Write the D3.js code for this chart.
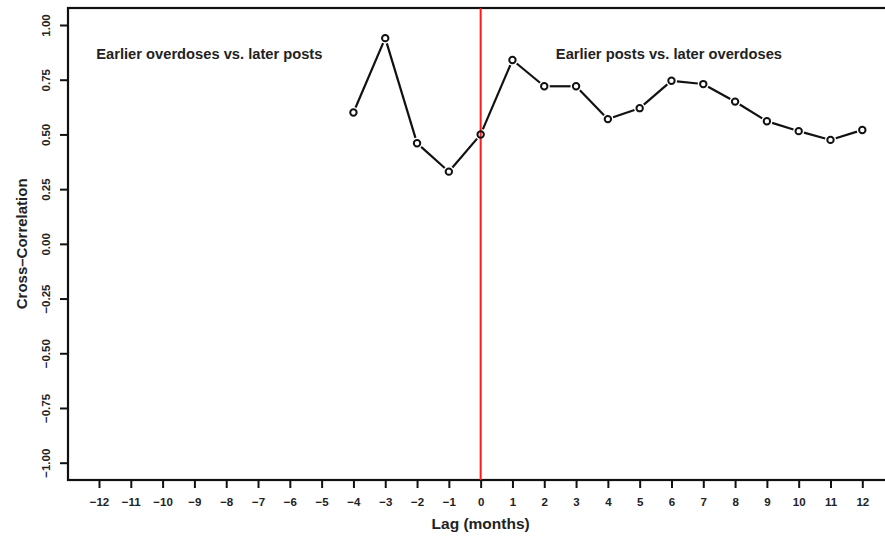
<!DOCTYPE html>
<html>
<head>
<meta charset="utf-8">
<script src="https://cdn.jsdelivr.net/npm/d3@7"></script>
<style>
  html, body { margin: 0; padding: 0; background: #fff; }
  svg { display: block; font-family: "Liberation Sans", Arial, sans-serif; }
</style>
</head>
<body>
<svg id="chart" width="885" height="540"></svg>
<script>
// Monthly lags and cross-correlation between posts and overdoses
const lags = [-4, -3, -2, -1, 0, 1, 2, 3, 4, 5, 6, 7, 8, 9, 10, 11, 12];
const crossCorr = [0.60, 0.94, 0.46, 0.33, 0.50, 0.84, 0.72, 0.72, 0.57, 0.62, 0.745, 0.73, 0.65, 0.56, 0.515, 0.475, 0.52];
const xTicks = d3.range(-12, 13);
const yTicks = [-1.00, -0.75, -0.50, -0.25, 0.00, 0.25, 0.50, 0.75, 1.00];
const notes = [
  { lag: -8.53, r: 0.868, text: "Earlier overdoses vs. later posts" },
  { lag: 5.92, r: 0.868, text: "Earlier posts vs. later overdoses" }
];

const svg = d3.select("#chart");
const box = { left: 68, top: 8, right: 900, bottom: 480 };

const x = d3.scaleLinear().domain([-12, 12]).range([99, 862.3]);
const y = d3.scaleLinear().domain([-1, 1]).range([462.7, 25]);

// Plot frame (right side runs past the page edge)
svg.append("rect")
  .attr("x", box.left).attr("y", box.top)
  .attr("width", box.right - box.left).attr("height", box.bottom - box.top)
  .attr("fill", "none").attr("stroke", "#111").attr("stroke-width", 2.2);

// X axis
const xAxis = svg.append("g")
  .attr("transform", `translate(0,${box.bottom})`)
  .call(d3.axisBottom(x).tickValues(xTicks).tickSize(8).tickPadding(10)
    .tickFormat(d => d < 0 ? "\u2212" + Math.abs(d) : d));
xAxis.select(".domain").remove();
xAxis.selectAll(".tick line").attr("stroke", "#111").attr("stroke-width", 2);
xAxis.selectAll(".tick text").attr("fill", "#222")
  .attr("font-size", 11.5).attr("font-weight", "bold");

// Y axis with rotated labels
const yAxis = svg.append("g")
  .attr("transform", `translate(${box.left},0)`)
  .call(d3.axisLeft(y).tickValues(yTicks).tickSize(8).tickFormat(d3.format(".2f")));
yAxis.select(".domain").remove();
yAxis.selectAll(".tick line").attr("stroke", "#111").attr("stroke-width", 2);
yAxis.selectAll(".tick text")
  .text(d => d3.format(".2f")(d).replace("-", "\u2212"))
  .attr("x", null).attr("dy", null)
  .attr("transform", "translate(-22,0) rotate(-90)")
  .attr("text-anchor", "middle").attr("dominant-baseline", "central")
  .attr("fill", "#222").attr("font-size", 11.5).attr("font-weight", "bold");

// Axis titles
svg.append("text")
  .attr("x", x(0)).attr("y", 529)
  .attr("text-anchor", "middle")
  .attr("font-size", 15.5).attr("font-weight", "bold").attr("fill", "#222")
  .text("Lag (months)");
svg.append("text")
  .attr("transform", `translate(21,${y(0)}) rotate(-90)`)
  .attr("text-anchor", "middle").attr("dominant-baseline", "central")
  .attr("font-size", 15).attr("font-weight", "bold").attr("fill", "#222")
  .text("Cross\u2013Correlation");

// Zero-lag reference line
svg.append("line")
  .attr("x1", x(0)).attr("x2", x(0))
  .attr("y1", box.top).attr("y2", box.bottom)
  .attr("stroke", "#ff1a1a").attr("stroke-width", 2);

// Region annotations
svg.selectAll("text.note").data(notes).join("text")
  .attr("class", "note")
  .attr("x", d => x(d.lag)).attr("y", d => y(d.r))
  .attr("text-anchor", "middle").attr("dominant-baseline", "central")
  .attr("font-size", 14.7).attr("font-weight", "bold").attr("fill", "#222")
  .text(d => d.text);

// Series line with open circle markers, segments gapped at the points
const pts = lags.map((l, i) => [x(l), y(crossCorr[i])]);
const gap = 5.5;
const segs = [];
for (let i = 0; i < pts.length - 1; i++) {
  const [x1, y1] = pts[i], [x2, y2] = pts[i + 1];
  const len = Math.hypot(x2 - x1, y2 - y1);
  const ux = (x2 - x1) / len, uy = (y2 - y1) / len;
  segs.push([[x1 + ux * gap, y1 + uy * gap], [x2 - ux * gap, y2 - uy * gap]]);
}
svg.selectAll("line.seg").data(segs).join("line")
  .attr("class", "seg")
  .attr("x1", d => d[0][0]).attr("y1", d => d[0][1])
  .attr("x2", d => d[1][0]).attr("y2", d => d[1][1])
  .attr("stroke", "#111").attr("stroke-width", 2.2);

svg.selectAll("circle.pt").data(lags).join("circle")
  .attr("class", "pt")
  .attr("cx", d => x(d))
  .attr("cy", (d, i) => y(crossCorr[i]))
  .attr("r", 3.2)
  .attr("fill", "none").attr("stroke", "#111").attr("stroke-width", 2);
</script>
</body>
</html>
